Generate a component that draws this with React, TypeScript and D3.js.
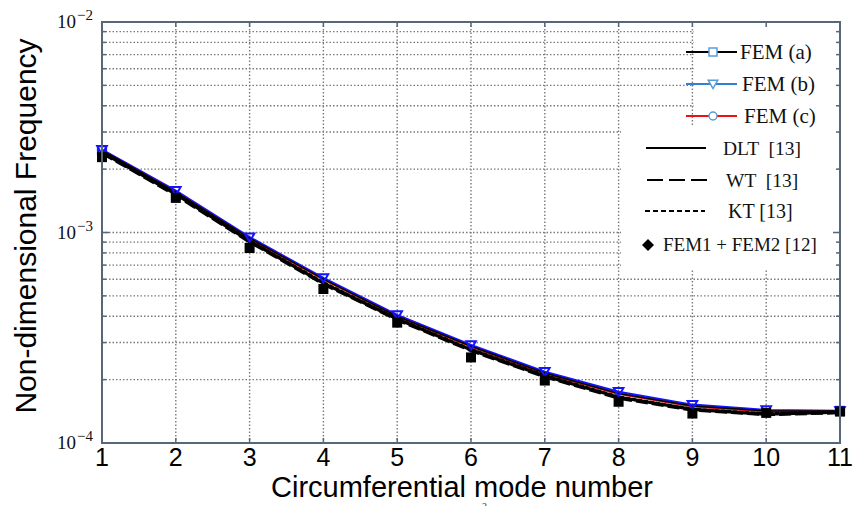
import React from "react";
import * as d3 from "d3";

const modes = [1, 2, 3, 4, 5, 6, 7, 8, 9, 10, 11];
const femA = [2.46e-3, 1.56e-3, 9.4e-4, 6.0e-4, 4.0e-4, 2.88e-4, 2.15e-4, 1.72e-4, 1.5e-4, 1.42e-4, 1.42e-4];
const femB = [2.47e-3, 1.58e-3, 9.5e-4, 6.08e-4, 4.06e-4, 2.92e-4, 2.18e-4, 1.75e-4, 1.52e-4, 1.435e-4, 1.42e-4];
const femC = [2.45e-3, 1.555e-3, 9.35e-4, 5.97e-4, 3.99e-4, 2.86e-4, 2.13e-4, 1.71e-4, 1.49e-4, 1.41e-4, 1.41e-4];
const dlt = [2.4e-3, 1.52e-3, 9.1e-4, 5.75e-4, 3.88e-4, 2.77e-4, 2.08e-4, 1.65e-4, 1.445e-4, 1.37e-4, 1.4e-4];
const wt = [2.38e-3, 1.5e-3, 9.0e-4, 5.68e-4, 3.84e-4, 2.74e-4, 2.06e-4, 1.63e-4, 1.43e-4, 1.36e-4, 1.39e-4];
const kt = [2.42e-3, 1.53e-3, 9.15e-4, 5.8e-4, 3.9e-4, 2.79e-4, 2.1e-4, 1.66e-4, 1.45e-4, 1.38e-4, 1.41e-4];
const fem12 = [2.28e-3, 1.46e-3, 8.44e-4, 5.39e-4, 3.73e-4, 2.55e-4, 1.98e-4, 1.57e-4, 1.38e-4, 1.39e-4, 1.41e-4];
const xTicks = [1, 2, 3, 4, 5, 6, 7, 8, 9, 10, 11];
const yDecades = [-4, -3, -2];
const legendFEM = ["FEM (a)", "FEM (b)", "FEM (c)"];
const legendRef = ["DLT  [13]", "WT  [13]", "KT [13]", "FEM1 + FEM2 [12]"];
const xTitle = "Circumferential mode number";
const yTitle = "Non-dimensional Frequency";

const L = 102, R = 840, T = 22, B = 443;
const axisColor = "#56677a";
const gridColor = "#7a7a7a";
const serif = "'Liberation Serif', 'Times New Roman', serif";
const sans = "'Liberation Sans', Arial, sans-serif";

export default function App() {
  const x = d3.scaleLinear().domain([1, 11]).range([L, R]);
  const y = d3.scaleLog().domain([1e-4, 1e-2]).range([B, T]);
  const line = (vals: number[]) =>
    d3.line<number>().x((_, i) => x(modes[i])).y((v) => y(v))(vals) as string;

  const minor: number[] = [];
  for (const e of [-4, -3]) {
    for (let k = 2; k <= 9; k++) minor.push(k * Math.pow(10, e));
  }
  const majors = yDecades.map((e) => Math.pow(10, e));

  const tri = d3.symbol().type(d3.symbolTriangle).size(40)();

  return (
    <svg width={856} height={506} style={{ position: "absolute", left: 0, top: 0, background: "#fff" }}>
      <rect x={0} y={0} width={856} height={506} fill="#fff" />
      {/* grid */}
      <g stroke={gridColor} strokeWidth={1.4} strokeDasharray="1.5 2" fill="none">
        {xTicks.slice(1, -1).map((t) => (
          <line key={"gx" + t} x1={x(t)} x2={x(t)} y1={T} y2={B} />
        ))}
        {[...minor, 1e-3].map((v, i) => (
          <line key={"gy" + i} x1={L} x2={R} y1={y(v)} y2={y(v)} />
        ))}
      </g>
      {/* legend backgrounds */}
      <rect x={694} y={23} width={144} height={105} fill="#fff" />
      <rect x={621} y={127} width={217} height={143} fill="#fff" />

      {/* ticks */}
      <g stroke={axisColor} strokeWidth={1.5}>
        {xTicks.map((t) => (
          <g key={"tx" + t}>
            <line x1={x(t)} x2={x(t)} y1={B} y2={B - 5} />
            <line x1={x(t)} x2={x(t)} y1={T} y2={T + 5} />
          </g>
        ))}
        {minor.map((v, i) => (
          <g key={"ty" + i}>
            <line x1={L} x2={L + 4} y1={y(v)} y2={y(v)} />
            <line x1={R} x2={R - 4} y1={y(v)} y2={y(v)} />
          </g>
        ))}
        {majors.map((v, i) => (
          <g key={"tM" + i}>
            <line x1={L} x2={L + 7} y1={y(v)} y2={y(v)} />
            <line x1={R} x2={R - 7} y1={y(v)} y2={y(v)} />
          </g>
        ))}
      </g>

      {/* data lines */}
      <path d={line(femB)} fill="none" stroke="#1414ff" strokeWidth={2.2} />
      <path d={line(femC)} fill="none" stroke="#e8201c" strokeWidth={2} />
      <path d={line(femA)} fill="none" stroke="#000" strokeWidth={1.5} />
      <path d={line(kt)} fill="none" stroke="#000" strokeWidth={2.5} strokeDasharray="4 2" />
      <path d={line(wt)} fill="none" stroke="#000" strokeWidth={2.8} strokeDasharray="12 4" />
      <path d={line(dlt)} fill="none" stroke="#000" strokeWidth={3.2} />

      {/* markers */}
      {femB.map((v, i) => (
        <path key={"mb" + i} d={tri} transform={`translate(${x(modes[i])},${y(v) - 1}) rotate(180)`}
          fill="none" stroke="#1414ff" strokeWidth={2} />
      ))}
      {femA.map((v, i) =>
        i === 0 || i === femA.length - 1 ? (
          <rect key={"ma" + i} x={x(modes[i]) - 4} y={y(v) - 4} width={8} height={8}
            fill="none" stroke="#1414ff" strokeWidth={2.2} />
        ) : null
      )}
      {fem12.map((v, i) => (
        <rect key={"mf" + i} x={x(modes[i]) - 5} y={y(v) - 5} width={10} height={10} fill="#000" />
      ))}

      {/* axes box */}
      <rect x={L} y={T} width={R - L} height={B - T} fill="none" stroke={axisColor} strokeWidth={2} />

      {/* y tick labels */}
      {yDecades.map((e) => (
        <g key={"yl" + e} fontFamily={serif} fill="#111">
          <text x={76} y={y(Math.pow(10, e)) + 6} fontSize={19} textAnchor="end">10</text>
          <text x={77} y={y(Math.pow(10, e)) - 2} fontSize={15}>{"\u2212" + Math.abs(e)}</text>
        </g>
      ))}
      {/* x tick labels */}
      {xTicks.map((t) => (
        <text key={"xl" + t} x={x(t)} y={466} fontSize={25} fontFamily={sans} textAnchor="middle" fill="#000">
          {t}
        </text>
      ))}
      <text x={462} y={497} fontSize={29} fontFamily={sans} textAnchor="middle" fill="#000">{xTitle}</text>
      <text transform="translate(36,226) rotate(-90)" fontSize={30} fontFamily={sans} textAnchor="middle" fill="#000">
        {yTitle}
      </text>
      <text x={482} y={510} fontSize={10} fontFamily={serif} fill="#333">2</text>

      {/* legend 1 */}
      <g fontFamily={serif} fontSize={21} fill="#111">
        <line x1={686} x2={737} y1={52} y2={52} stroke="#000" strokeWidth={2} />
        <rect x={709} y={48} width={8} height={8} fill="#fff" stroke="#5b9bd5" strokeWidth={1.5} />
        <text x={740} y={59}>{legendFEM[0]}</text>
        <line x1={686} x2={737} y1={84} y2={84} stroke="#2f7fd2" strokeWidth={2} />
        <path d={tri} transform="translate(713,83) rotate(180)" fill="#fff" stroke="#5b9bd5" strokeWidth={1.5} />
        <text x={742} y={91}>{legendFEM[1]}</text>
        <line x1={686} x2={737} y1={116} y2={116} stroke="#ee1111" strokeWidth={2} />
        <circle cx={713} cy={116} r={4} fill="#fff" stroke="#5b9bd5" strokeWidth={1.5} />
        <text x={744} y={123}>{legendFEM[2]}</text>
      </g>
      {/* legend 2 */}
      <g fontFamily={serif} fill="#111">
        <line x1={646} x2={706} y1={148} y2={148} stroke="#000" strokeWidth={2} />
        <text x={723} y={155} fontSize={19.5} style={{ whiteSpace: "pre" }}>{legendRef[0]}</text>
        <line x1={647} x2={707} y1={180} y2={180} stroke="#000" strokeWidth={2} strokeDasharray="16 6" />
        <text x={726} y={187} fontSize={19.5} style={{ whiteSpace: "pre" }}>{legendRef[1]}</text>
        <line x1={645} x2={705} y1={211} y2={211} stroke="#000" strokeWidth={2} strokeDasharray="5 3" />
        <text x={728} y={218} fontSize={20}>{legendRef[2]}</text>
        <path d="M648,239 L654,245 L648,251 L642,245 Z" fill="#000" />
        <text x={663} y={251} fontSize={19}>{legendRef[3]}</text>
      </g>
    </svg>
  );
}
